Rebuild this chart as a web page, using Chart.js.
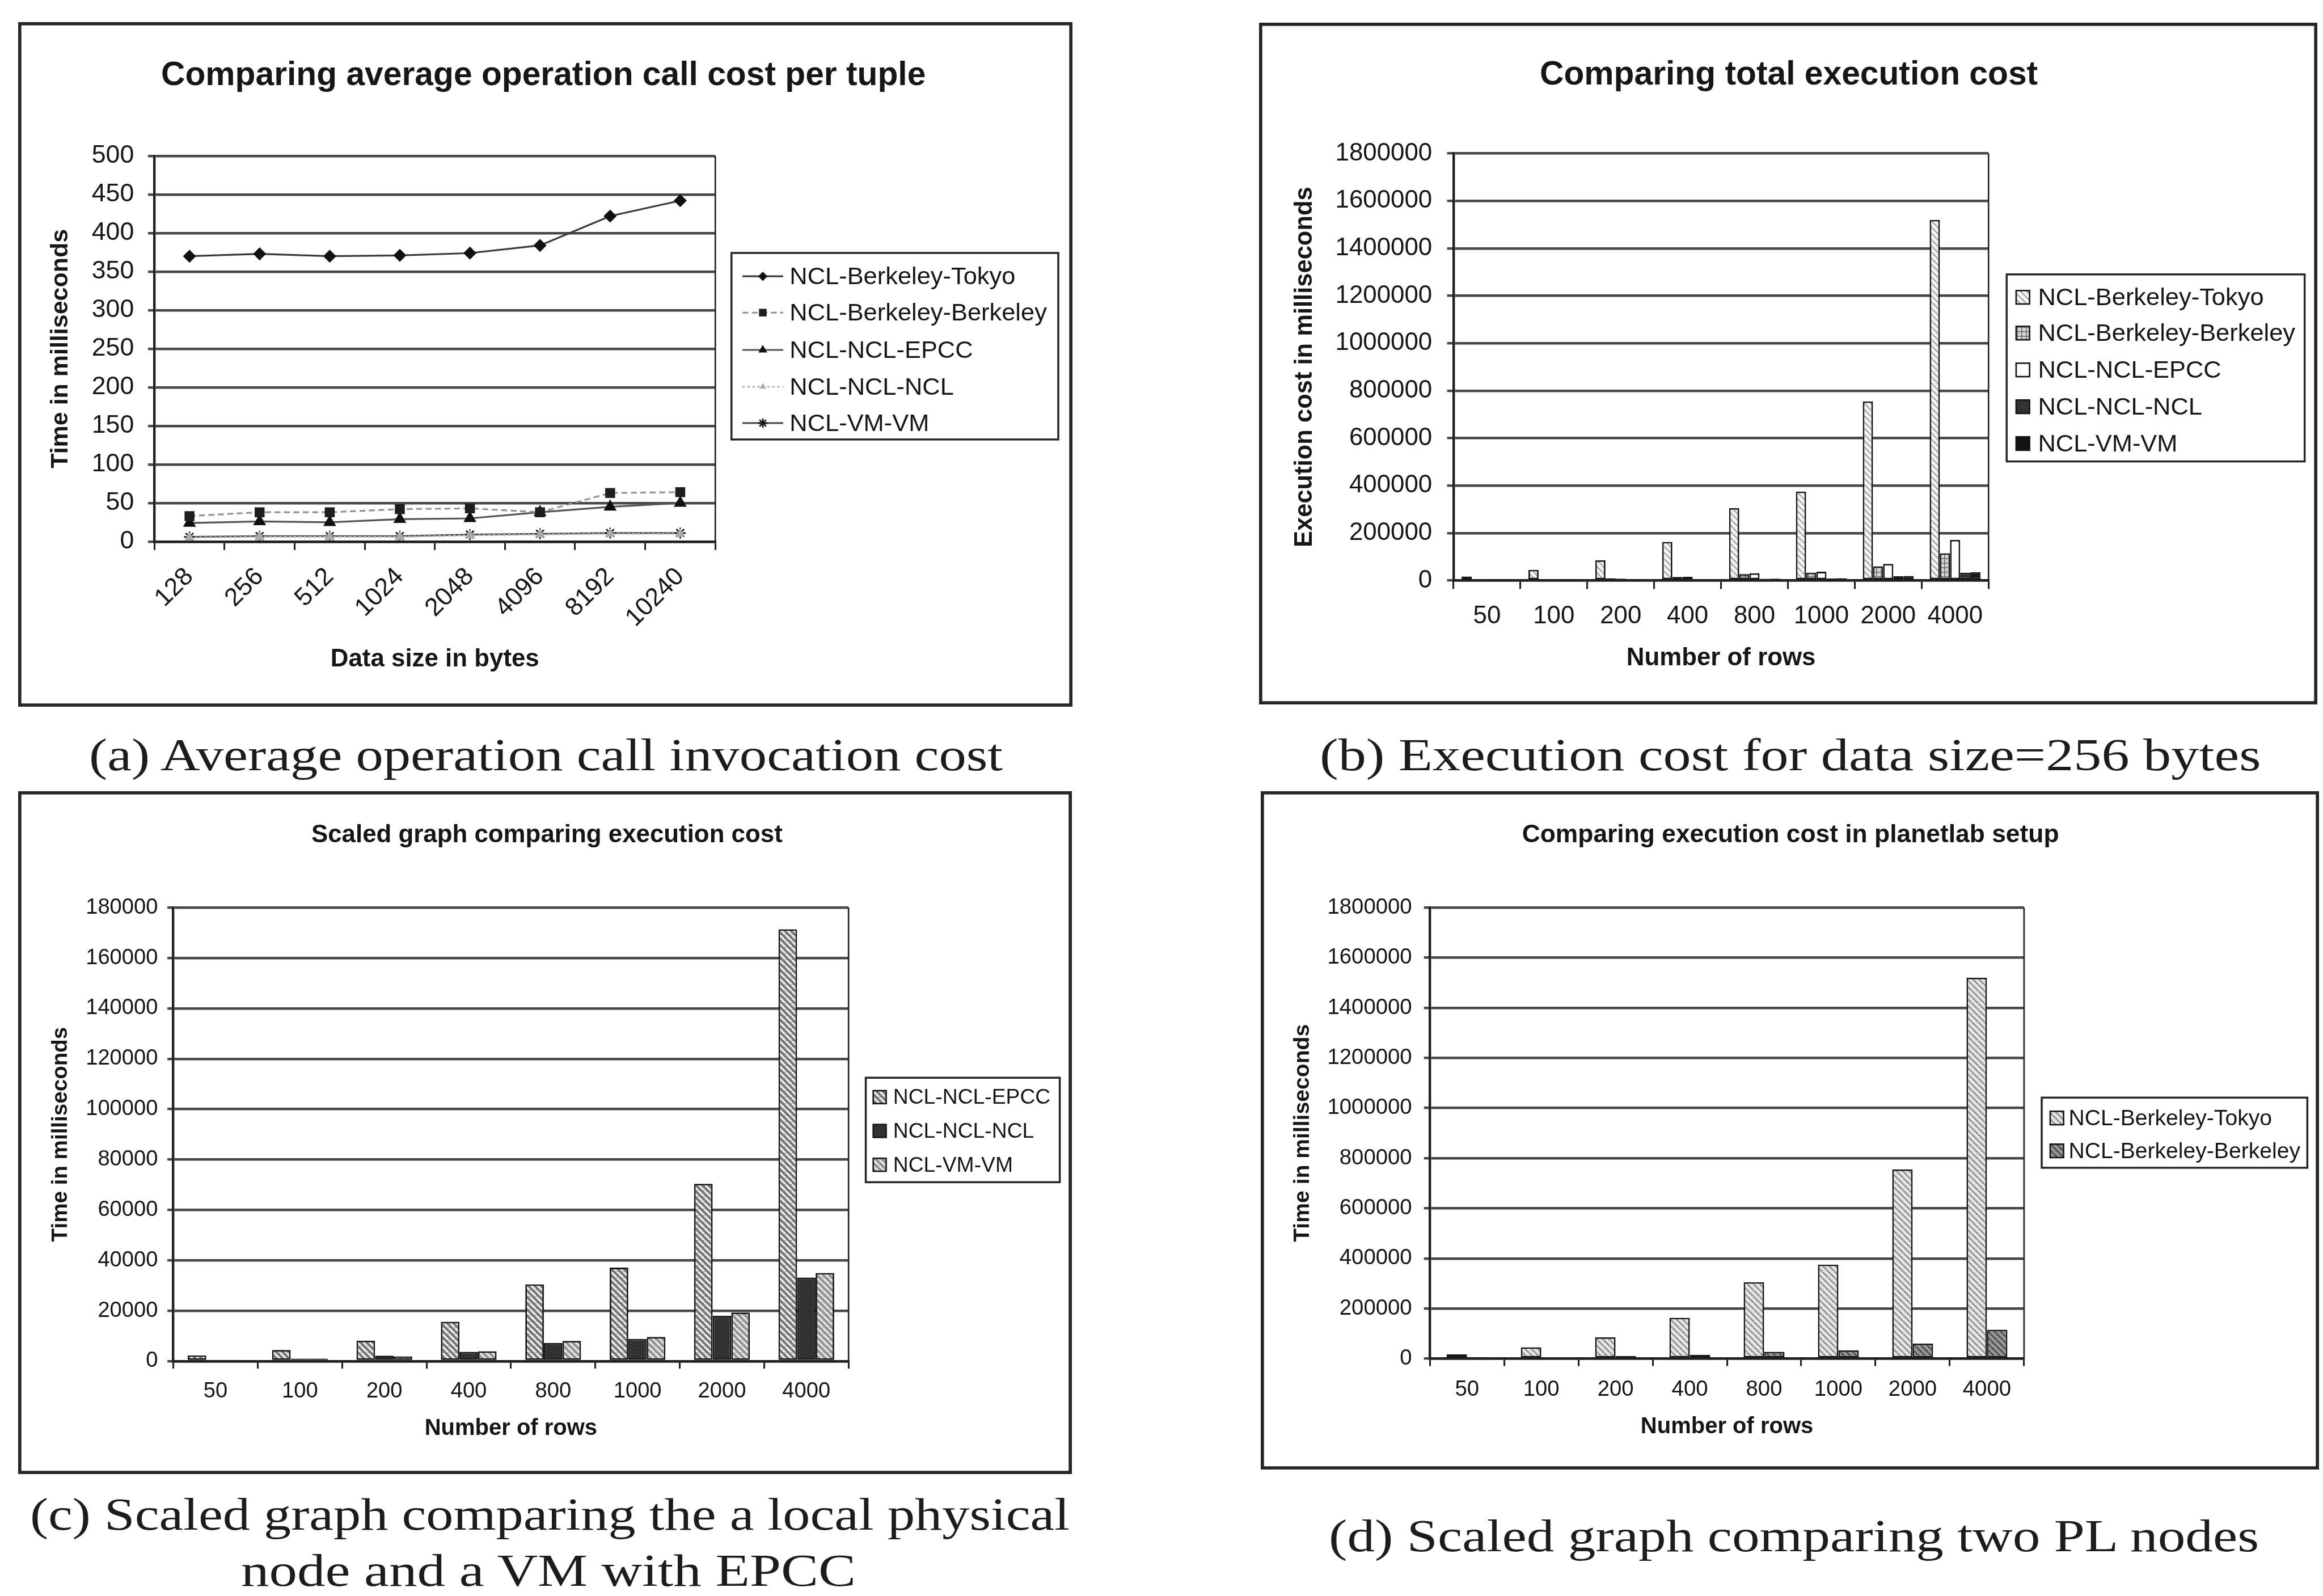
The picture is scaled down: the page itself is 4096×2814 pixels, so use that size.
<!DOCTYPE html>
<html>
<head>
<meta charset="utf-8">
<script src="https://cdn.jsdelivr.net/npm/chart.js@4.4.1/dist/chart.umd.min.js"></script>
<style>
  html, body { margin: 0; padding: 0; background: #ffffff; width: 4096px; height: 2814px; overflow: hidden; }
  .panel { position: absolute; }
  .panel canvas { display: block; }
  .cap { position: absolute; white-space: nowrap; font-family: 'Liberation Serif', 'DejaVu Serif', serif;
         color: #1c1c1c; line-height: 1; transform-origin: 0 50%; }
</style>
</head>
<body>
<div id="panel-a" class="panel"><canvas></canvas></div>
<div id="panel-b" class="panel"><canvas></canvas></div>
<div id="panel-c" class="panel"><canvas></canvas></div>
<div id="panel-d" class="panel"><canvas></canvas></div>
<script>
// ---------- data ----------
const dataSizes = ['128', '256', '512', '1024', '2048', '4096', '8192', '10240'];
const rowCounts = ['50', '100', '200', '400', '800', '1000', '2000', '4000'];
const seriesNames = ['NCL-Berkeley-Tokyo', 'NCL-Berkeley-Berkeley', 'NCL-NCL-EPCC', 'NCL-NCL-NCL', 'NCL-VM-VM'];

// average operation call cost per tuple (ms), by data size
const callTokyo    = [370, 373, 370, 371, 374, 384, 422, 442];
const callBerkeley = [33, 38, 38, 42, 43, 38, 63, 64];
const callEpcc     = [24, 26, 25, 29, 30, 38, 45, 50];
const callNclNcl   = [5, 6, 6, 6, 8, 9, 10, 10];
const callVmVm     = [6, 7, 7, 7, 9, 10, 11, 11];

// total execution cost (ms), by number of rows
const totalTokyo    = [17000, 45000, 85000, 163000, 305000, 375000, 755000, 1520000];
const totalBerkeley = [6000, 4000, 10000, 15000, 27000, 33000, 60000, 115000];
const totalEpcc     = [2300, 4400, 8100, 15600, 30500, 37100, 70400, 171400];
const totalNclNcl   = [400, 1000, 2200, 3700, 7200, 8800, 18000, 33200];
const totalVmVm     = [400, 1000, 1900, 3900, 8000, 9600, 19300, 35000];

// ---------- drawing setup ----------
const K = 4096 / 4670;
const px = v => v * K;
const FONT = "'Liberation Sans', Arial, Helvetica, sans-serif";
const TEXT = '#161616';
const AXIS = '#202020';
const GRID = '#484848';
const FRAME = '#262626';
Chart.defaults.font.family = FONT;
Chart.defaults.color = TEXT;

// panel geometry, in source units (scaled by K when drawn)
const panelLayouts = {
  a: { box: [37, 44, 2156, 1420], plot: [311, 313, 1438, 1088],
       title: { text: 'Comparing average operation call cost per tuple', x: 1093, y: 152, size: 67 },
       tickSize: 51, yTickLen: 13, yTickGap: 41, xTickLen: 17, xLabelPad: 24, rot: 45,
       yTitle: { size: 49, cx: 123 }, xTitle: { size: 50, cy: 1325 },
       legend: { box: [1471, 508, 2128, 883], rows: [555, 628, 703, 777, 850], mode: 'line',
                 sample: [1493, 1575], textX: 1588, size: 49.5 } },
  b: { box: [2531, 46, 4659, 1416], plot: [2922, 309, 3998, 1167],
       title: { text: 'Comparing total execution cost', x: 3596, y: 152, size: 67 },
       tickSize: 50, yTickLen: 13, yTickGap: 43, xTickLen: 17, xLabelPad: 25, rot: 0, catPct: 0.76,
       yTitle: { size: 49.6, cx: 2623 }, xTitle: { size: 50, cy: 1323 },
       legend: { box: [4034, 552, 4633, 928], rows: [598, 670, 744, 818, 892], mode: 'bar',
                 swatch: [4053, 27], textX: 4097, size: 49.5 } },
  c: { box: [37, 1591, 2155, 2964], plot: [349, 1825, 1706, 2737],
       title: { text: 'Scaled graph comparing execution cost', x: 1100, y: 1680, size: 50 },
       tickSize: 43.5, yTickLen: 12, yTickGap: 31, xTickLen: 15, xLabelPad: 20, rot: 0, catPct: 0.66,
       yTitle: { size: 44, cx: 123 }, xTitle: { size: 45.6, cy: 2873 },
       legend: { box: [1741, 2167, 2131, 2377], rows: [2206, 2274, 2342], mode: 'bar',
                 swatch: [1756, 26], textX: 1796, size: 42.5 } },
  d: { box: [2534, 1591, 4662, 2955], plot: [2874, 1825, 4069, 2732],
       title: { text: 'Comparing execution cost in planetlab setup', x: 3599, y: 1680, size: 50.6 },
       tickSize: 43.7, yTickLen: 12, yTickGap: 36, xTickLen: 15, xLabelPad: 21, rot: 0, catPct: 0.55,
       yTitle: { size: 44.6, cx: 2619 }, xTitle: { size: 45.6, cy: 2870 },
       legend: { box: [4104, 2207, 4638, 2348], rows: [2248, 2314], mode: 'bar',
                 swatch: [4121, 27], textX: 4158, size: 44.6 } }
};

// ---------- fill patterns for the bars ----------
const scratch = document.createElement('canvas').getContext('2d');
function hatch(bg, fg, size, lw, dir) {
  const c = document.createElement('canvas');
  c.width = c.height = size;
  const g = c.getContext('2d');
  g.fillStyle = bg; g.fillRect(0, 0, size, size);
  g.strokeStyle = fg; g.lineWidth = lw;
  g.beginPath();
  for (let k = -1; k <= 1; k++) {
    if (dir === '\\') { g.moveTo(k * size, 0); g.lineTo(k * size + size, size); }
    else { g.moveTo(k * size, size); g.lineTo(k * size + size, 0); }
  }
  g.stroke();
  return scratch.createPattern(c, 'repeat');
}
function gridPat(bg, fg, size, lw) {
  const c = document.createElement('canvas');
  c.width = c.height = size;
  const g = c.getContext('2d');
  g.fillStyle = bg; g.fillRect(0, 0, size, size);
  g.fillStyle = fg; g.fillRect(0, 0, size, lw); g.fillRect(0, 0, lw, size);
  return scratch.createPattern(c, 'repeat');
}
function dotPat(bg, fg, size) {
  const c = document.createElement('canvas');
  c.width = c.height = size;
  const g = c.getContext('2d');
  g.fillStyle = bg; g.fillRect(0, 0, size, size);
  g.fillStyle = fg; g.fillRect(0, 0, 1.5, 1.5); g.fillRect(size / 2, size / 2, 1.5, 1.5);
  return scratch.createPattern(c, 'repeat');
}

// ---------- marker drawing used by the legend of the line panel ----------
function marker(ctx, style, x, y, r) {
  ctx.beginPath();
  if (style === 'rectRot') {
    ctx.moveTo(x, y - r); ctx.lineTo(x + r, y); ctx.lineTo(x, y + r); ctx.lineTo(x - r, y); ctx.closePath(); ctx.fill();
  } else if (style === 'rect') {
    const s = r * 0.75; ctx.rect(x - s, y - s, 2 * s, 2 * s); ctx.fill();
  } else if (style === 'triangle') {
    ctx.moveTo(x, y - r); ctx.lineTo(x + r * 0.87, y + r * 0.5); ctx.lineTo(x - r * 0.87, y + r * 0.5); ctx.closePath(); ctx.fill();
  } else {
    for (let a = 0; a < 4; a++) {
      const t = a * Math.PI / 4;
      ctx.moveTo(x - r * Math.cos(t), y - r * Math.sin(t)); ctx.lineTo(x + r * Math.cos(t), y + r * Math.sin(t));
    }
    ctx.stroke();
  }
}

// frame, title, legend box and plot edge of each panel
const decor = {
  id: 'decor',
  afterDraw(chart, args, opts) {
    const L = opts.layout;
    const ctx = chart.ctx;
    const bl = L.box[0], bt = L.box[1];
    const X = v => px(v - bl), Y = v => px(v - bt);
    const ca = chart.chartArea;
    ctx.save();
    // right edge of the plot area
    ctx.strokeStyle = AXIS; ctx.lineWidth = px(3);
    ctx.beginPath(); ctx.moveTo(ca.right, ca.top); ctx.lineTo(ca.right, ca.bottom); ctx.stroke();
    // outer frame
    const fw = px(6.5);
    ctx.strokeStyle = FRAME; ctx.lineWidth = fw;
    ctx.strokeRect(fw / 2, fw / 2, chart.width - fw, chart.height - fw);
    // title
    ctx.fillStyle = TEXT;
    ctx.font = `bold ${px(L.title.size)}px ${FONT}`;
    ctx.textAlign = 'center'; ctx.textBaseline = 'middle';
    ctx.fillText(L.title.text, X(L.title.x), Y(L.title.y));
    // legend
    const lg = L.legend;
    ctx.lineWidth = px(4); ctx.strokeStyle = FRAME;
    ctx.strokeRect(X(lg.box[0]), Y(lg.box[1]), px(lg.box[2] - lg.box[0]), px(lg.box[3] - lg.box[1]));
    ctx.font = `${px(lg.size)}px ${FONT}`;
    ctx.textAlign = 'left'; ctx.textBaseline = 'middle';
    chart.data.datasets.forEach((ds, i) => {
      const y = Y(lg.rows[i]);
      if (lg.mode === 'line') {
        ctx.save();
        ctx.strokeStyle = ds.borderColor; ctx.lineWidth = ds.borderWidth;
        ctx.setLineDash(ds.borderDash || []);
        ctx.beginPath(); ctx.moveTo(X(lg.sample[0]), y); ctx.lineTo(X(lg.sample[1]), y); ctx.stroke();
        ctx.setLineDash([]);
        ctx.fillStyle = ds.pointBackgroundColor; ctx.strokeStyle = ds.pointBorderColor;
        ctx.lineWidth = ds.pointBorderWidth;
        marker(ctx, ds.pointStyle, (X(lg.sample[0]) + X(lg.sample[1])) / 2, y, ds.pointRadius * 0.85);
        ctx.restore();
      } else {
        const s = px(lg.swatch[1]);
        ctx.save();
        ctx.fillStyle = ds.backgroundColor; ctx.fillRect(X(lg.swatch[0]), y - s / 2, s, s);
        ctx.strokeStyle = ds.borderColor; ctx.lineWidth = px(3);
        ctx.strokeRect(X(lg.swatch[0]), y - s / 2, s, s);
        ctx.restore();
      }
      ctx.fillStyle = TEXT;
      ctx.fillText(ds.label, X(lg.textX), y + px(2));
    });
    ctx.restore();
  }
};

function buildChart(key, type, labels, datasets, yMax, yStep, xTitle, yTitle) {
  const L = panelLayouts[key];
  const [bl, bt, br, bb] = L.box;
  const [pl, pt, pr, pb] = L.plot;
  const wrap = document.getElementById('panel-' + key);
  const W = Math.round(px(br - bl)), H = Math.round(px(bb - bt));
  wrap.style.left = px(bl) + 'px'; wrap.style.top = px(bt) + 'px';
  const cv = wrap.querySelector('canvas');
  cv.width = W; cv.height = H; cv.style.width = W + 'px'; cv.style.height = H + 'px';
  const tickFont = { family: FONT, size: px(L.tickSize) };
  return new Chart(cv, {
    type,
    data: { labels, datasets },
    options: {
      responsive: false, animation: false, devicePixelRatio: 1,
      layout: { padding: { top: px(pt - bt), right: px(br - pr), left: 0, bottom: 0 } },
      plugins: { legend: { display: false }, tooltip: { enabled: false }, decor: { layout: L } },
      scales: {
        x: {
          offset: true,
          grid: { offset: true, drawOnChartArea: false, drawTicks: true, tickLength: px(L.xTickLen),
                  color: AXIS, lineWidth: px(3.5) },
          border: { display: true, color: AXIS, width: px(5) },
          ticks: { font: tickFont, color: TEXT, padding: px(L.xLabelPad), autoSkip: false,
                   maxRotation: L.rot, minRotation: L.rot },
          title: { display: true, text: xTitle, color: TEXT,
                   font: { family: FONT, size: px(L.xTitle.size), weight: 'bold' },
                   padding: { top: 0, bottom: px(bb - L.xTitle.cy) - 0.6 * px(L.xTitle.size) } },
          afterFit(s) { s.height = px(bb - pb); }
        },
        y: {
          min: 0, max: yMax,
          ticks: { stepSize: yStep, font: tickFont, color: TEXT, padding: px(L.yTickGap - L.yTickLen),
                   callback: v => String(v) },
          grid: { color: GRID, lineWidth: px(5), drawTicks: true, tickLength: px(L.yTickLen) },
          border: { display: true, color: AXIS, width: px(5) },
          title: { display: true, text: yTitle, color: TEXT,
                   font: { family: FONT, size: px(L.yTitle.size), weight: 'bold' },
                   padding: { top: px(L.yTitle.cx - bl) - 0.6 * px(L.yTitle.size), bottom: 0 } },
          afterFit(s) { s.width = px(pl - bl); }
        }
      }
    },
    plugins: [decor]
  });
}

// ---------- (a) line panel ----------
const lineStyle = (label, data, color, dash, ptStyle, ptColor, r) => ({
  label, data, borderColor: color, borderWidth: px(3.6), borderDash: dash, tension: 0, fill: false,
  pointStyle: ptStyle, pointRadius: px(r), pointBackgroundColor: ptColor, pointBorderColor: ptColor,
  pointBorderWidth: px(3)
});
buildChart('a', 'line', dataSizes, [
  lineStyle(seriesNames[0], callTokyo, '#3a3a3a', [], 'rectRot', '#111', 11),
  lineStyle(seriesNames[1], callBerkeley, '#949494', [px(12), px(7)], 'rect', '#1e1e1e', 12),
  lineStyle(seriesNames[2], callEpcc, '#555555', [], 'triangle', '#111', 12),
  lineStyle(seriesNames[3], callNclNcl, '#b8b8b8', [px(5), px(5)], 'triangle', '#aaaaaa', 9),
  lineStyle(seriesNames[4], callVmVm, '#505050', [], 'star', '#151515', 11)
], 500, 50, 'Data size in bytes', 'Time in milliseconds');

// ---------- bar panels ----------
const barStyle = (label, data, fill, pct) => ({
  label, data, backgroundColor: fill, borderColor: '#161616', borderWidth: px(3.2), borderSkipped: false,
  barPercentage: 1.0, categoryPercentage: pct
});
const hp = Math.round(px(12));

const pb = panelLayouts.b.catPct;
buildChart('b', 'bar', rowCounts, [
  barStyle(seriesNames[0], totalTokyo, hatch('#f2f2f2', '#959595', hp, px(2.2), '\\'), pb),
  barStyle(seriesNames[1], totalBerkeley, gridPat('#d4d4d4', '#737373', Math.round(px(9)), px(2)), pb),
  barStyle(seriesNames[2], totalEpcc, '#ffffff', pb),
  barStyle(seriesNames[3], totalNclNcl, dotPat('#2a2a2a', '#676767', Math.round(px(7))), pb),
  barStyle(seriesNames[4], totalVmVm, '#131313', pb)
], 1800000, 200000, 'Number of rows', 'Execution cost in milliseconds');

const pc = panelLayouts.c.catPct;
buildChart('c', 'bar', rowCounts, [
  barStyle(seriesNames[2], totalEpcc, hatch('#777777', '#f0f0f0', hp, px(4), '\\'), pc),
  barStyle(seriesNames[3], totalNclNcl, dotPat('#2c2c2c', '#5a5a5a', Math.round(px(7))), pc),
  barStyle(seriesNames[4], totalVmVm, hatch('#969696', '#ececec', hp, px(3.5), '\\'), pc)
], 180000, 20000, 'Number of rows', 'Time in milliseconds');

const pd = panelLayouts.d.catPct;
buildChart('d', 'bar', rowCounts, [
  barStyle(seriesNames[0], totalTokyo, hatch('#e4e4e4', '#888888', hp, px(2.8), '\\'), pd),
  barStyle(seriesNames[1], totalBerkeley, hatch('#959595', '#454545', hp, px(2.8), '\\'), pd)
], 1800000, 200000, 'Number of rows', 'Time in milliseconds');

// ---------- sub-figure captions ----------
const captionLines = [
  { text: '(a) Average operation call invocation cost', x0: 179, x1: 2016, cy: 1518 },
  { text: '(b) Execution cost for data size=256 bytes', x0: 2653, x1: 4545, cy: 1518 },
  { text: '(c) Scaled graph comparing the a local physical', x0: 60, x1: 2150, cy: 3044 },
  { text: 'node and a VM with EPCC', x0: 485, x1: 1721, cy: 3157 },
  { text: '(d) Scaled graph comparing two PL nodes', x0: 2671, x1: 4541, cy: 3088 }
];
captionLines.forEach(c => {
  const d = document.createElement('div');
  d.className = 'cap';
  d.textContent = c.text;
  d.style.fontSize = px(92) + 'px';
  d.style.left = px(c.x0) + 'px';
  d.style.top = px(c.cy) + 'px';
  document.body.appendChild(d);
  const w = d.getBoundingClientRect().width;
  d.style.transform = `translateY(-50%) scaleX(${px(c.x1 - c.x0) / w})`;
});
</script>
</body>
</html>
